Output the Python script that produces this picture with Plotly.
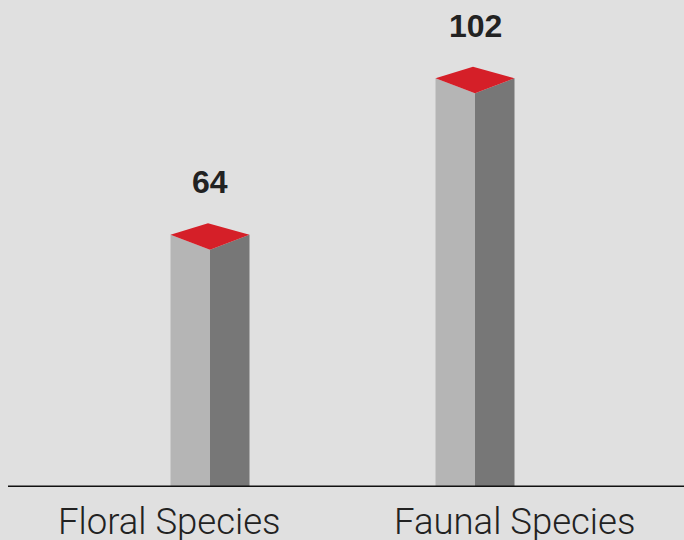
import plotly.graph_objects as go

# Species counts
categories = ["Floral Species", "Faunal Species"]
counts = [64, 102]

# Category label offsets (in category units) relative to each column
label_offsets = [-0.152, 0.149]

W, H = 684, 540
bottom_margin = 53
plot_h = H - bottom_margin          # plot area height in px
px_per_x = 265.0                    # px between category centres
x_left_px = 210.0                   # px position of first category
y_top = 118.2                       # y-axis upper bound
px_per_y = plot_h / y_top

x_range = [-x_left_px / px_per_x, -x_left_px / px_per_x + W / px_per_x]

# column geometry (px converted to data units)
half_w = 39.5 / px_per_x
back_shift = -2.0 / px_per_x
side_drop = 11.5 / px_per_y
front_drop = 26.5 / px_per_y
below = 2.0 / px_per_y

bg = "#e0e0e0"
light_face = "#b5b5b5"
dark_face = "#777777"
top_face = "#d51f28"
text_col = "#222222"

fig = go.Figure()

for i, v in enumerate(counts):
    c = i
    # left (lit) face
    fig.add_trace(go.Scatter(
        x=[c - half_w, c - half_w, c, c, c - half_w],
        y=[-below, v - side_drop, v - front_drop, -below, -below],
        fill="toself", fillcolor=light_face, mode="lines",
        line=dict(width=0), hoverinfo="skip", showlegend=False))
    # right (shaded) face
    fig.add_trace(go.Scatter(
        x=[c, c, c + half_w, c + half_w, c],
        y=[-below, v - front_drop, v - side_drop, -below, -below],
        fill="toself", fillcolor=dark_face, mode="lines",
        line=dict(width=0), hoverinfo="skip", showlegend=False))
    # top face
    fig.add_trace(go.Scatter(
        x=[c - half_w, c + back_shift, c + half_w, c, c - half_w],
        y=[v - side_drop, v, v - side_drop, v - front_drop, v - side_drop],
        fill="toself", fillcolor=top_face, mode="lines",
        line=dict(width=0), hoverinfo="skip", showlegend=False))
    # value label
    fig.add_annotation(
        x=c, y=v, xref="x", yref="y", text=f"<b>{v}</b>",
        showarrow=False, yanchor="middle", yshift=41,
        font=dict(family="Liberation Sans, Arial, sans-serif", size=32, color=text_col))
    # category label
    fig.add_annotation(
        x=c + label_offsets[i], y=-(521 - plot_h) / plot_h, xref="x", yref="paper",
        text=categories[i], showarrow=False, yanchor="middle",
        font=dict(family="Roboto, Liberation Sans, sans-serif", size=36.5,
                  weight=300, color=text_col))

# baseline
fig.add_shape(type="line", xref="paper", yref="y",
              x0=8 / W, x1=1, y0=0, y1=0,
              line=dict(color="#111111", width=3))

fig.update_layout(
    width=W, height=H,
    margin=dict(l=0, r=0, t=0, b=bottom_margin, pad=0),
    paper_bgcolor=bg, plot_bgcolor=bg,
    xaxis=dict(range=x_range, visible=False, fixedrange=True),
    yaxis=dict(range=[0, y_top], visible=False, fixedrange=True),
    showlegend=False,
)

fig.write_html("out.html")
